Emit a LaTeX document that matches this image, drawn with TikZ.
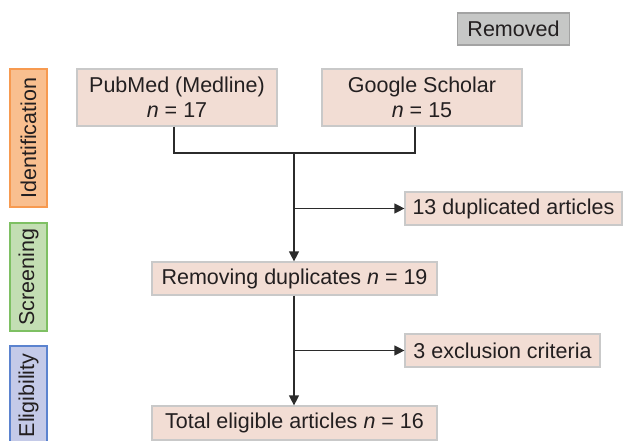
\documentclass[tikz,border=0pt]{standalone}
\usepackage{fontspec}
\setmainfont{Liberation Sans}
\usetikzlibrary{arrows.meta,calc}
\definecolor{boxfill}{HTML}{F2DDD4}
\definecolor{boxline}{HTML}{C9C9C9}
\definecolor{txt}{HTML}{231F20}
\definecolor{lnc}{HTML}{2B2B2B}
\definecolor{idfill}{HTML}{F9BF8F}
\definecolor{idline}{HTML}{F79A50}
\definecolor{scfill}{HTML}{C3DEB3}
\definecolor{scline}{HTML}{7EC063}
\definecolor{elfill}{HTML}{C4CAE8}
\definecolor{elline}{HTML}{5B83CF}
\definecolor{rmfill}{HTML}{C6C7C6}
\definecolor{rmline}{HTML}{A3A3A3}
\begin{document}
\begin{tikzpicture}[x=1pt,y=-1pt,
  every node/.style={text=txt,font=\fontsize{21.5}{25}\selectfont,inner sep=0pt},
  flowbox/.style={draw=boxline,fill=boxfill,line width=1.2pt,align=center},
  stagebox/.style={line width=1.2pt,rotate=90,minimum width=#1,minimum height=37pt},
  conn/.style={draw=lnc,line width=1.2pt},
  arr/.style={conn,-{Triangle[length=10pt,width=10pt]}}]
\useasboundingbox (0,0) rectangle (624,441);
\clip (0,0) rectangle (624,441);
\node[draw=rmline,fill=rmfill,line width=1.2pt,minimum width=112pt,minimum height=32pt] (removed) at (513.5,29) {Removed};
\node[stagebox=138pt,draw=idline,fill=idfill] (ident) at (28.5,138) {Identification};
\node[stagebox=108pt,draw=scline,fill=scfill] (screen) at (28.5,277) {Screening};
\node[stagebox=99pt,draw=elline,fill=elfill] (elig) at (28.5,395.5) {Eligibility};
\node[flowbox,minimum width=200pt,minimum height=57pt] (pubmed) at (177,97.5) {PubMed (Medline)\\\textit{n} = 17};
\node[flowbox,minimum width=200pt,minimum height=57pt] (google) at (422,97.5) {Google Scholar\\\textit{n} = 15};
\node[flowbox,minimum width=217pt,minimum height=33pt] (dup) at (513.5,208.5) {13 duplicated articles};
\node[flowbox,minimum width=285pt,minimum height=33pt] (removing) at (294.5,278.5) {Removing duplicates \textit{n} = 19};
\node[flowbox,minimum width=195pt,minimum height=33pt] (excl) at (502.5,350.5) {3 exclusion criteria};
\node[flowbox,minimum width=285pt,minimum height=34pt] (total) at (294.5,423) {Total eligible articles \textit{n} = 16};
\coordinate (join) at (294,153);
\draw[conn] ([xshift=-3pt]pubmed.south) |- (join);
\draw[conn] ([xshift=-7pt]google.south) |- (join);
\draw[arr] (join) -- (join |- removing.north);
\draw[arr] (dup.west -| join) -- (dup.west);
\draw[arr] (join |- removing.south) -- (join |- total.north);
\draw[arr] (excl.west -| join) -- (excl.west);
\end{tikzpicture}
\end{document}
